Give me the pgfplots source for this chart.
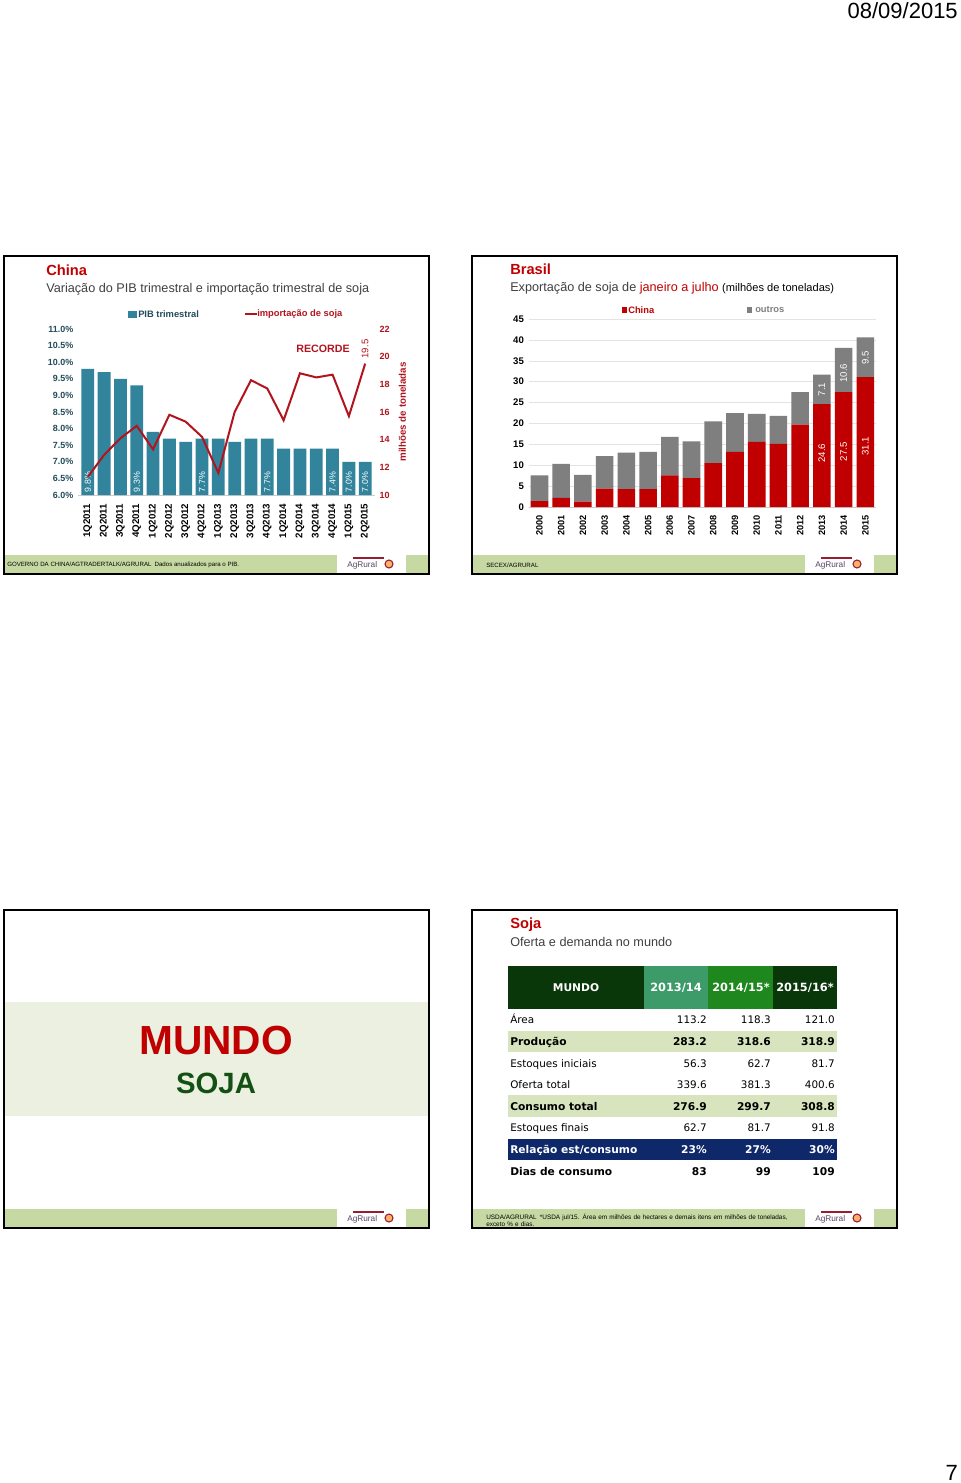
\documentclass[border=0pt]{standalone}
\usepackage{pgfplots}
\pgfplotsset{compat=1.18}
\usepackage{fontspec}
\setmainfont{Liberation Sans}
\newfontfamily\dejavu{DejaVu Sans}
\newcommand\fs[1]{\fontsize{#1}{#1}\selectfont}
\definecolor{titlered}{RGB}{192,0,0}
\definecolor{subgray}{RGB}{64,64,64}
\definecolor{barteal}{RGB}{49,132,155}
\definecolor{tickteal}{RGB}{35,75,90}
\definecolor{linered}{RGB}{178,20,30}
\definecolor{bandgreen}{RGB}{198,217,163}
\definecolor{mundoband}{RGB}{235,240,224}
\definecolor{sojagreen}{RGB}{20,80,20}
\definecolor{hdark}{RGB}{10,55,10}
\definecolor{hmid}{RGB}{60,155,105}
\definecolor{hbright}{RGB}{30,135,30}
\definecolor{rowgreen}{RGB}{215,228,189}
\definecolor{navy}{RGB}{15,40,105}
\definecolor{brred}{RGB}{192,0,0}
\definecolor{brgray}{RGB}{127,127,127}
\definecolor{logogray}{RGB}{85,70,100}
\definecolor{logored}{RGB}{150,30,50}

\newcommand\slide[2]{%
  \fill[bandgreen] (#1+1,#2+299) rectangle (#1+424,#2+317);
  \fill[white] (#1+333,#2+297) rectangle (#1+402,#2+317);
  \node[anchor=west, inner sep=0, font=\fs{6.2}, text=logogray] at (#1+343,#2+309) {AgRural};
  \draw[logored, line width=1.1pt] (#1+349,#2+302) -- (#1+380,#2+302);
  \draw[logored, fill=orange!60, line width=0.8pt] (#1+385,#2+308) circle[radius=4];
  \draw[line width=1.5pt] (#1,#2) rectangle (#1+425,#2+318);
}
\newcommand\trow[6]{%
  \node[anchor=base west, inner sep=0, #6] at (510,#1+4) {#2};
  \node[anchor=base east, inner sep=0, #6] at (707,#1+4) {#3};
  \node[anchor=base east, inner sep=0, #6] at (771,#1+4) {#4};
  \node[anchor=base east, inner sep=0, #6] at (835,#1+4) {#5};
}

\begin{document}
\begin{tikzpicture}[x=0.75pt,y=-0.75pt]
\fill[white] (0,0) rectangle (960,1483);
\path[use as bounding box] (0,0) rectangle (960,1483);

\node[anchor=base east, inner sep=0, font=\fs{16.5}] at (958,19) {08/09/2015};
\node[anchor=base east, inner sep=0, font=\fs{16.5}] at (958,1480) {7};

% ================= slide 1: China =================
\slide{4}{256}
\node[anchor=base west, inner sep=0, font=\bfseries\fs{11}, text=titlered] at (46,276) {China};
\node[anchor=base west, inner sep=0, font=\fs{9.5}, text=subgray] at (46,293) {Variação do PIB trimestral e importação trimestral de soja};
\fill[barteal] (128,311) rectangle (137,318);
\node[anchor=west, inner sep=0, font=\bfseries\fs{7}, text=tickteal] at (138,314.5) {PIB trimestral};
\draw[linered, line width=1.5pt] (245,314.5) -- (257,314.5);
\node[anchor=west, inner sep=0, font=\bfseries\fs{7}, text=linered] at (257,314.5) {importação de soja};
\node[inner sep=0, font=\bfseries\fs{8}, text=linered] at (323,349) {RECORDE};
\node[rotate=90, inner sep=0, font=\fs{7.2}, text=linered] at (365,349) {19.5};
\node[anchor=west, inner sep=0, font=\fs{4.6}] at (7,565) {GOVERNO DA CHINA/AGTRADERTALK/AGRURAL\enspace Dados anualizados para o PIB.};

\begin{scope}[x=1cm,y=1cm]
\begin{axis}[
  at={(58.5pt,-371.25pt)}, anchor=south west, scale only axis,
  width=222.75pt, height=124.5pt,
  xmin=-0.6, xmax=17.6, ymin=6, ymax=11,
  ybar, bar width=9.6pt,
  axis x line*=bottom, axis y line*=left,
  x axis line style={draw=gray!40}, y axis line style={draw=none},
  major tick length=0pt,
  ytick={6,6.5,7,7.5,8,8.5,9,9.5,10,10.5,11},
  yticklabel={\pgfmathprintnumber[fixed,fixed zerofill,precision=1]{\tick}\%},
  yticklabel style={font=\bfseries\fs{6.7}, text=tickteal},
  xtick={0,...,17},
  xticklabels={1Q2011,2Q2011,3Q2011,4Q2011,1Q2012,2Q2012,3Q2012,4Q2012,1Q2013,2Q2013,3Q2013,4Q2013,1Q2014,2Q2014,3Q2014,4Q2014,1Q2015,2Q2015},
  xticklabel style={rotate=90, anchor=east, font=\bfseries\fs{7.3}},
  xticklabel shift=3pt,
  /pgf/number format/assume math mode=true,
  clip=false,
]
\addplot[fill=barteal, draw=none] coordinates {
 (0,9.8) (1,9.7) (2,9.5) (3,9.3) (4,7.9) (5,7.7) (6,7.6) (7,7.7) (8,7.7)
 (9,7.6) (10,7.7) (11,7.7) (12,7.4) (13,7.4) (14,7.4) (15,7.4) (16,7.0) (17,7.0)};
\node[rotate=90, anchor=west, inner sep=0, text=white, font=\fs{6.6}] at (axis cs:0,6.08) {9.8\%};
\node[rotate=90, anchor=west, inner sep=0, text=white, font=\fs{6.6}] at (axis cs:3,6.08) {9.3\%};
\node[rotate=90, anchor=west, inner sep=0, text=white, font=\fs{6.6}] at (axis cs:7,6.08) {7.7\%};
\node[rotate=90, anchor=west, inner sep=0, text=white, font=\fs{6.6}] at (axis cs:11,6.08) {7.7\%};
\node[rotate=90, anchor=west, inner sep=0, text=white, font=\fs{6.6}] at (axis cs:15,6.08) {7.4\%};
\node[rotate=90, anchor=west, inner sep=0, text=white, font=\fs{6.6}] at (axis cs:16,6.08) {7.0\%};
\node[rotate=90, anchor=west, inner sep=0, text=white, font=\fs{6.6}] at (axis cs:17,6.08) {7.0\%};
\end{axis}

\begin{axis}[
  at={(58.5pt,-371.25pt)}, anchor=south west, scale only axis,
  width=222.75pt, height=124.5pt,
  xmin=-0.6, xmax=17.6, ymin=10, ymax=22,
  axis x line=none, axis y line*=right,
  y axis line style={draw=none}, major tick length=0pt,
  ytick={10,12,...,22},
  yticklabel style={font=\bfseries\fs{6.75}, text=linered},
  ylabel={milhões de toneladas},
  ylabel style={font=\bfseries\fs{7.3}, text=linered},
  /pgf/number format/assume math mode=true,
]
\addplot[linered, line width=1.5pt, mark=none] coordinates {
 (0,11.3) (1,12.9) (2,14.1) (3,15.0) (4,13.3) (5,15.8) (6,15.3) (7,14.2) (8,11.6)
 (9,16.0) (10,18.3) (11,17.7) (12,15.4) (13,18.8) (14,18.5) (15,18.7) (16,15.7) (17,19.5)};
\end{axis}
\end{scope}

% ================= slide 2: Brasil =================
\slide{472}{256}
\node[anchor=base west, inner sep=0, font=\bfseries\fs{11}, text=titlered] at (510,275) {Brasil};
\node[anchor=base west, inner sep=0, font=\fs{9.5}, text=subgray] at (510,292) {Exportação de soja de \textcolor{titlered}{janeiro a julho} {\fs{8.3}\color{black}(milhões de toneladas)}};
\fill[brred] (622,307) rectangle (627,313);
\node[anchor=west, inner sep=0, font=\bfseries\fs{7}, text=brred] at (628,310) {China};
\fill[brgray] (747,307) rectangle (752,313);
\node[anchor=west, inner sep=0, font=\bfseries\fs{7}, text=brgray] at (755,310) {outros};
\node[anchor=west, inner sep=0, font=\fs{4.6}] at (486,565) {SECEX/AGRURAL};

\begin{scope}[x=1cm,y=1cm]
\begin{axis}[
  at={(396.45pt,-380.25pt)}, anchor=south west, scale only axis,
  width=260.7pt, height=141pt,
  ybar stacked, bar width=13.2pt,
  xmin=-0.5, xmax=15.5, ymin=0, ymax=45,
  ytick={0,5,...,45},
  ymajorgrids, grid style={gray!22},
  axis x line*=bottom, axis y line*=left,
  x axis line style={draw=gray!40}, y axis line style={draw=none},
  major tick length=0pt,
  xtick={0,...,15},
  xticklabels={2000,2001,2002,2003,2004,2005,2006,2007,2008,2009,2010,2011,2012,2013,2014,2015},
  xticklabel style={rotate=90, anchor=east, font=\bfseries\fs{6.9}},
  xticklabel shift=2.5pt,
  yticklabel style={font=\bfseries\fs{7.2}},
  /pgf/number format/assume math mode=true,
  clip=false,
]
\addplot[fill=brred, draw=none] coordinates {
 (0,1.4) (1,2.2) (2,1.3) (3,4.4) (4,4.3) (5,4.3) (6,7.6) (7,6.9)
 (8,10.5) (9,13.2) (10,15.6) (11,15.1) (12,19.7) (13,24.6) (14,27.5) (15,31.1)};
\addplot[fill=brgray, draw=none] coordinates {
 (0,6.2) (1,8.1) (2,6.4) (3,7.8) (4,8.7) (5,8.9) (6,9.2) (7,8.8)
 (8,10.0) (9,9.3) (10,6.7) (11,6.7) (12,7.8) (13,7.1) (14,10.6) (15,9.5)};
\end{axis}
\begin{axis}[
  at={(396.45pt,-380.25pt)}, anchor=south west, scale only axis,
  width=260.7pt, height=141pt,
  xmin=-0.5, xmax=15.5, ymin=0, ymax=45,
  hide axis, clip=false,
]
\node[rotate=90, inner sep=0, text=white, font=\fs{7.2}] at (axis cs:13,12.9) {24.6};
\node[rotate=90, inner sep=0, text=white, font=\fs{7.2}] at (axis cs:14,13.2) {27.5};
\node[rotate=90, inner sep=0, text=white, font=\fs{7.2}] at (axis cs:15,14.6) {31.1};
\node[rotate=90, inner sep=0, text=white, font=\fs{7.2}] at (axis cs:13,28.1) {7.1};
\node[rotate=90, inner sep=0, text=white, font=\fs{7.2}] at (axis cs:14,32.0) {10.6};
\node[rotate=90, inner sep=0, text=white, font=\fs{7.2}] at (axis cs:15,35.6) {9.5};
\end{axis}
\end{scope}

% ================= slide 3: MUNDO SOJA =================
\fill[mundoband] (5,1002) rectangle (428,1116);
\slide{4}{910}
\node[inner sep=0, font=\bfseries\fs{30.5}, text=titlered] at (216,1040) {MUNDO};
\node[inner sep=0, font=\bfseries\fs{22}, text=sojagreen] at (216,1083) {SOJA};

% ================= slide 4: table =================
\slide{472}{910}
\node[anchor=base west, inner sep=0, font=\bfseries\fs{11}, text=titlered] at (510,928) {Soja};
\node[anchor=base west, inner sep=0, font=\fs{9.5}, text=subgray] at (510,946) {Oferta e demanda no mundo};
\fill[hdark] (508,966) rectangle (644,1009);
\fill[hmid] (644,966) rectangle (708,1009);
\fill[hbright] (708,966) rectangle (773,1009);
\fill[hdark] (773,966) rectangle (837,1009);
\node[inner sep=0, font=\dejavu\bfseries\fs{8}, text=white] at (576,988) {MUNDO};
\node[inner sep=0, font=\dejavu\bfseries\fs{8.5}, text=white] at (676,988) {2013/14};
\node[inner sep=0, font=\dejavu\bfseries\fs{8.5}, text=white] at (741,988) {2014/15*};
\node[inner sep=0, font=\dejavu\bfseries\fs{8.5}, text=white] at (805,988) {2015/16*};
\fill[rowgreen] (508,1030.6) rectangle (837,1052.2);
\fill[rowgreen] (508,1095.4) rectangle (837,1117);
\fill[navy] (508,1138.6) rectangle (837,1160.2);
\trow{1019.8}{Área}{113.2}{118.3}{121.0}{font=\dejavu\fs{7.8}}
\trow{1041.4}{Produção}{283.2}{318.6}{318.9}{font=\dejavu\bfseries\fs{8}}
\trow{1063.0}{Estoques iniciais}{56.3}{62.7}{81.7}{font=\dejavu\fs{7.8}}
\trow{1084.6}{Oferta total}{339.6}{381.3}{400.6}{font=\dejavu\fs{7.8}}
\trow{1106.2}{Consumo total}{276.9}{299.7}{308.8}{font=\dejavu\bfseries\fs{8}}
\trow{1127.8}{Estoques finais}{62.7}{81.7}{91.8}{font=\dejavu\fs{7.8}}
\trow{1149.4}{Relação est/consumo}{23\%}{27\%}{30\%}{font=\dejavu\bfseries\fs{8}, text=white}
\trow{1171.0}{Dias de consumo}{83}{99}{109}{font=\dejavu\bfseries\fs{8}}
\node[anchor=north west, inner sep=0, font=\fs{4.8}, align=left, text width=232pt] at (486,1214) {USDA/AGRURAL\enspace *USDA jul/15. Área em milhões de hectares e demais itens em milhões de toneladas, exceto \% e dias.};
\end{tikzpicture}
\end{document}
